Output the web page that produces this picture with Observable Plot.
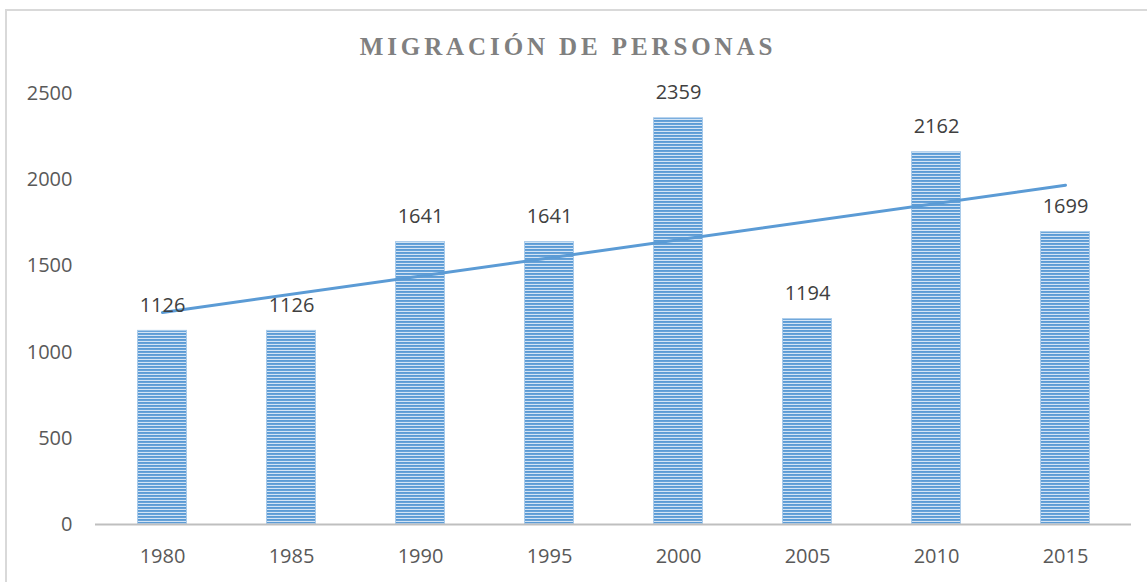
<!DOCTYPE html>
<html>
<head>
<meta charset="utf-8">
<script src="https://cdn.jsdelivr.net/npm/d3@7"></script>
<script src="https://cdn.jsdelivr.net/npm/@observablehq/plot@0.6"></script>
<style>
  html, body { margin: 0; padding: 0; background: #fff; }
  #wrap { position: relative; width: 1147px; height: 582px; overflow: hidden; background: #fff; }
  #frame { position: absolute; left: 5px; top: 9px; width: 1300px; height: 800px; border: 2px solid #d9d9d9; box-sizing: border-box; }
  #title { position: absolute; top: 34px; left: 568px; transform: translateX(-50%); white-space: nowrap;
           font-family: "Liberation Serif", "Times New Roman", serif; font-weight: bold; font-size: 25px;
           letter-spacing: 3.9px; color: #808080; line-height: 1; }
  #chart { position: absolute; left: 0; top: 0; }
</style>
</head>
<body>
<div id="wrap">
  <div id="frame"></div>
  <div id="title">MIGRACIÓN DE PERSONAS</div>
  <div id="chart"></div>
</div>
<script>
const years = ["1980", "1985", "1990", "1995", "2000", "2005", "2010", "2015"];
const values = [1126, 1126, 1641, 1641, 2359, 1194, 2162, 1699];
const yTicks = [0, 500, 1000, 1500, 2000, 2500];
// linear trend line endpoints
const trendYears = ["1980", "2015"];
const trendValues = [1230, 1968];

const data = years.map((year, i) => ({year, value: values[i]}));
const trend = trendYears.map((year, i) => ({year, value: trendValues[i]}));

const font = "'Open Sans', 'Liberation Sans', sans-serif";

const chart = Plot.plot({
  width: 1147,
  height: 582,
  marginTop: 93,
  marginBottom: 58,
  marginLeft: 95,
  marginRight: 16,
  style: {fontFamily: font, background: "transparent", overflow: "visible"},
  x: {domain: years, paddingInner: 0.614, paddingOuter: 0.307, label: null},
  y: {domain: [0, 2500], label: null},
  marks: [
    Plot.barY(data, {x: "year", y: "value", fill: "url(#stripes)", stroke: "#a9cbea", strokeWidth: 1, inset: 0.5}),
    Plot.ruleY([0], {stroke: "#bfbfbf", strokeWidth: 2}),
    Plot.line(trend, {x: "year", y: "value", stroke: "#5b9bd5", strokeWidth: 3}),
    Plot.text(data, {x: "year", y: "value", text: d => String(d.value), dy: -25, fontSize: 20, fill: "#404040", fontFamily: font}),
    Plot.axisY({ticks: yTicks, tickSize: 0, tickPadding: 23, fontSize: 20, color: "#595959", tickFormat: d => String(d)}),
    Plot.axisX({tickSize: 0, tickPadding: 24, fontSize: 20, color: "#595959"})
  ]
});

// striped fill pattern for the bars
const ns = "http://www.w3.org/2000/svg";
const defs = document.createElementNS(ns, "defs");
const pat = document.createElementNS(ns, "pattern");
pat.setAttribute("id", "stripes");
pat.setAttribute("patternUnits", "userSpaceOnUse");
pat.setAttribute("width", "10");
pat.setAttribute("height", "3");
const bg = document.createElementNS(ns, "rect");
bg.setAttribute("width", "10"); bg.setAttribute("height", "3"); bg.setAttribute("fill", "#d3e4f5");
const fg = document.createElementNS(ns, "rect");
fg.setAttribute("width", "10"); fg.setAttribute("height", "1.9"); fg.setAttribute("fill", "#5b9bd5");
pat.appendChild(bg); pat.appendChild(fg);
defs.appendChild(pat);
chart.insertBefore(defs, chart.firstChild);

document.getElementById("chart").appendChild(chart);
</script>
</body>
</html>
